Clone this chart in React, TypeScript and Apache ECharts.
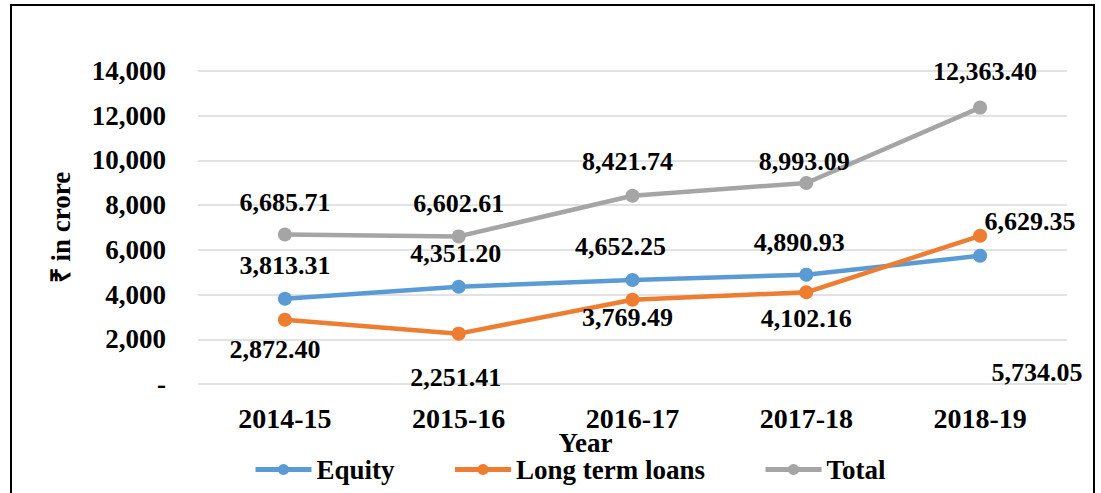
import React, { useEffect, useRef } from "react";
import * as echarts from "echarts";

const years = ["2014-15", "2015-16", "2016-17", "2017-18", "2018-19"];
const equity = [3813.31, 4351.2, 4652.25, 4890.93, 5734.05];
const loans = [2872.4, 2251.41, 3769.49, 4102.16, 6629.35];
const total = [6685.71, 6602.61, 8421.74, 8993.09, 12363.4];
const seriesNames = ["Equity", "Long term loans", "Total"];

const FONT = "'Liberation Serif', 'Times New Roman', serif";

const fmt2 = (v: number) =>
  v.toLocaleString("en-US", { minimumFractionDigits: 2, maximumFractionDigits: 2 });

// label offsets (layout) relative to each point
const offsets: number[][][] = [
  [[0, -33], [-3, -33], [-12, -33], [-7, -32], [57, 117]],
  [[-10, 30], [-3, 44], [-5, 18], [0, 26], [50, -14]],
  [[0, -32], [0, -33], [-5, -34], [-2, -21], [5, -36]],
];
const colors = ["#5B9BD5", "#ED7D31", "#A5A5A5"];

export default function App() {
  const ref = useRef<HTMLDivElement>(null);
  useEffect(() => {
    if (!ref.current) return;
    const chart = echarts.init(ref.current, null, { renderer: "svg" });
    const all = [equity, loans, total];
    chart.setOption({
      animation: false,
      backgroundColor: "#fff",
      color: colors,
      textStyle: { fontFamily: FONT },
      graphic: [
        {
          type: "rect",
          shape: { x: 11, y: 5, width: 1083, height: 500 },
          style: { fill: "none", stroke: "#000", lineWidth: 2 },
          silent: true,
        },
      ],
      grid: { left: 198, right: 34, top: 71, bottom: 109 },
      legend: {
        bottom: 5,
        left: 248,
        itemWidth: 56,
        itemHeight: 14,
        itemGap: 58,
        lineStyle: { width: 5 },
        textStyle: { fontFamily: FONT, fontWeight: "bold", fontSize: 27, color: "#000", lineHeight: 18 },
        data: seriesNames,
      },
      xAxis: {
        type: "category",
        data: years,
        boundaryGap: true,
        name: "Year",
        nameLocation: "middle",
        nameGap: 51,
        nameMoveOverlap: false,
        nameTextStyle: {
          fontFamily: FONT,
          fontWeight: "bold",
          fontSize: 27,
          color: "#000",
          lineHeight: 16,
          padding: [0, 94, 0, 0],
        },
        axisLine: { show: false },
        axisTick: { show: false },
        axisLabel: { fontFamily: FONT, fontWeight: "bold", fontSize: 28, color: "#000", margin: 24, lineHeight: 20 },
      },
      yAxis: {
        type: "value",
        min: 0,
        max: 14000,
        interval: 2000,
        name: "₹ in crore",
        nameLocation: "middle",
        nameGap: 124,
        nameRotate: 90,
        nameMoveOverlap: false,
        nameTextStyle: { fontFamily: FONT, fontWeight: "bold", fontSize: 27, color: "#000" },
        axisLine: { show: false },
        axisTick: { show: false },
        splitLine: { lineStyle: { color: "#D9D9D9", width: 1.5 } },
        axisLabel: {
          fontFamily: FONT,
          fontWeight: "bold",
          fontSize: 27,
          color: "#000",
          margin: 32,
          formatter: (v: number) => (v === 0 ? "-" : v.toLocaleString("en-US")),
        },
      },
      series: all.map((arr, si) => ({
        name: seriesNames[si],
        type: "line",
        symbol: "circle",
        symbolSize: 14,
        lineStyle: { width: 4.5, color: colors[si] },
        itemStyle: { color: colors[si] },
        data: arr.map((v, i) => ({
          value: v,
          label: {
            show: true,
            position: "inside",
            offset: offsets[si][i],
            formatter: () => fmt2(v),
            fontFamily: FONT,
            fontWeight: "bold",
            fontSize: 26,
            color: "#000",
          },
        })),
      })),
    });
    return () => chart.dispose();
  }, []);
  return (
    <div
      ref={ref}
      style={{ position: "absolute", left: 0, top: 0, width: 1101, height: 493 }}
    />
  );
}
